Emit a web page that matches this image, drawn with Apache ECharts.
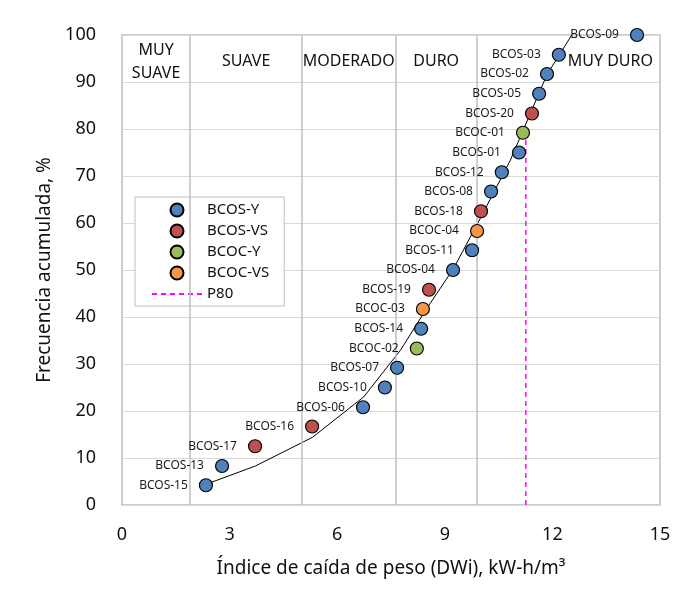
<!DOCTYPE html>
<html>
<head>
<meta charset="utf-8">
<script src="https://cdn.jsdelivr.net/npm/echarts@6/dist/echarts.min.js"></script>
<style>
html,body{margin:0;padding:0;background:#fff;}
#chart{width:680px;height:597px;}
</style>
</head>
<body>
<div id="chart"></div>
<script>
// ---- data ----
const sampleNames = ['BCOS-15','BCOS-13','BCOS-17','BCOS-16','BCOS-06','BCOS-10','BCOS-07','BCOC-02','BCOS-14','BCOC-03','BCOS-19','BCOS-04','BCOS-11','BCOC-04','BCOS-18','BCOS-08','BCOS-12','BCOS-01','BCOC-01','BCOS-20','BCOS-05','BCOS-02','BCOS-03','BCOS-09'];
const sampleGroups = ['BCOS-Y','BCOS-Y','BCOS-VS','BCOS-VS','BCOS-Y','BCOS-Y','BCOS-Y','BCOC-Y','BCOS-Y','BCOC-VS','BCOS-VS','BCOS-Y','BCOS-Y','BCOC-VS','BCOS-VS','BCOS-Y','BCOS-Y','BCOS-Y','BCOC-Y','BCOS-VS','BCOS-Y','BCOS-Y','BCOS-Y','BCOS-Y'];
const dwiValues = [2.34,2.79,3.71,5.30,6.72,7.33,7.67,8.22,8.34,8.39,8.56,9.23,9.76,9.90,10.01,10.29,10.59,11.07,11.18,11.43,11.63,11.85,12.18,14.36];
const cumFreq = [4.2,8.3,12.5,16.7,20.8,25.0,29.2,33.3,37.5,41.7,45.8,50.0,54.2,58.3,62.5,66.7,70.8,75.0,79.2,83.3,87.5,91.7,95.8,100.0];
const fitX = [2.34,3.72,5.31,6.74,7.77,8.41,9.25,10.04,10.83,11.85,12.54];
const fitY = [4.4,8.3,14.4,23.0,33.0,40.8,50.4,61.7,73.4,91.6,100.0];
const p80X = [11.26,11.26];
const p80Y = [0,80];
const zoneNames = ['MUY\nSUAVE','SUAVE','MODERADO','DURO','MUY DURO'];
const zoneBounds = [0,1.9,5.02,7.62,9.9,15];
const groupNames = ['BCOS-Y','BCOS-VS','BCOC-Y','BCOC-VS'];
const groupColors = ['#4F81BD','#C0504D','#9BBB59','#F79646'];
const xTicks = {min:0,max:15,interval:3};
const yTicks = {min:0,max:100,interval:10};

const FONT = 'Noto Sans';
const chart = echarts.init(document.getElementById('chart'), null, {renderer:'canvas'});

const scatterSeries = groupNames.map((g, gi) => ({
  name: g,
  type: 'scatter',
  symbol: 'circle',
  symbolSize: 13,
  z: 5,
  itemStyle: {color: groupColors[gi], borderColor: '#000', borderWidth: 1.2, opacity: 1},
  label: {
    show: true, position: 'left', distance: 11,
    formatter: p => p.value[2],
    fontFamily: FONT, fontSize: 12, color: '#1a1a1a'
  },
  data: sampleNames.map((n, i) => sampleGroups[i] === g ? [dwiValues[i], cumFreq[i], n] : null).filter(d => d)
}));

const zoneAreas = zoneNames.map((n, i) => {
  const a = {name: n, xAxis: zoneBounds[i], yAxis: 90};
  if (i === zoneNames.length - 1) a.label = {position: 'insideRight', distance: 7};
  return [a, {xAxis: zoneBounds[i+1], yAxis: 100}];
});

const option = {
  backgroundColor: '#fff',
  animation: false,
  grid: {left: 122, right: 20, top: 35, bottom: 92, show: true, borderColor: '#BFBFBF', borderWidth: 1.5, containLabel: false},
  legend: {
    orient: 'vertical', left: 135, top: 197,
    data: groupNames.map(n => ({name: n})).concat([{name: 'P80', itemStyle: {opacity: 0}}]),
    itemWidth: 50, itemHeight: 13, itemGap: 5,
    padding: [5, 15, 4, 16],
    backgroundColor: '#fff', borderColor: '#BFBFBF', borderWidth: 1,
    textStyle: {fontFamily: FONT, fontSize: 15, color: '#111', lineHeight: 16},
    symbolKeepAspect: true
  },
  xAxis: {
    type: 'value', min: xTicks.min, max: xTicks.max, interval: xTicks.interval,
    name: 'Índice de caída de peso (DWi), kW-h/m³', nameLocation: 'middle', nameGap: 54,
    nameTextStyle: {fontFamily: FONT, fontSize: 19, color: '#111'},
    axisLine: {show: false}, axisTick: {show: false}, splitLine: {show: false},
    axisLabel: {fontFamily: FONT, fontSize: 18, color: '#111', margin: 21}
  },
  yAxis: {
    type: 'value', min: yTicks.min, max: yTicks.max, interval: yTicks.interval,
    name: 'Frecuencia acumulada, %', nameLocation: 'middle', nameGap: 66, nameRotate: 90,
    nameTextStyle: {fontFamily: FONT, fontSize: 19, color: '#111'},
    axisLine: {show: false}, axisTick: {show: false},
    splitLine: {show: true, lineStyle: {color: '#D9D9D9', width: 1}},
    axisLabel: {fontFamily: FONT, fontSize: 18, color: '#111', margin: 26}
  },
  series: [
    {
      name: 'zones', type: 'line', data: [], silent: true, z: 1,
      markLine: {
        silent: true, symbol: ['none','none'], animation: false,
        label: {show: false},
        lineStyle: {color: '#BFBFBF', width: 1.5, type: 'solid'},
        data: zoneBounds.slice(1, -1).map(b => ({xAxis: b}))
      },
      markArea: {
        silent: true,
        itemStyle: {color: 'rgba(0,0,0,0)'},
        label: {show: true, position: 'inside', fontFamily: FONT, fontSize: 16, color: '#111', lineHeight: 23, offset: [0, 3]},
        data: zoneAreas
      }
    },
    {
      name: 'fit', type: 'line', z: 3, symbol: 'none', smooth: false, silent: true,
      lineStyle: {color: '#000', width: 1},
      data: fitX.map((x, i) => [x, fitY[i]])
    },
    {
      name: 'P80', type: 'line', z: 2, symbol: 'none', silent: true,
      lineStyle: {color: '#FF00FF', width: 1.5, type: [5, 4]},
      itemStyle: {color: '#FF00FF'},
      data: p80X.map((x, i) => [x, p80Y[i]])
    }
  ].concat(scatterSeries)
};
chart.setOption(option);
</script>
</body>
</html>
